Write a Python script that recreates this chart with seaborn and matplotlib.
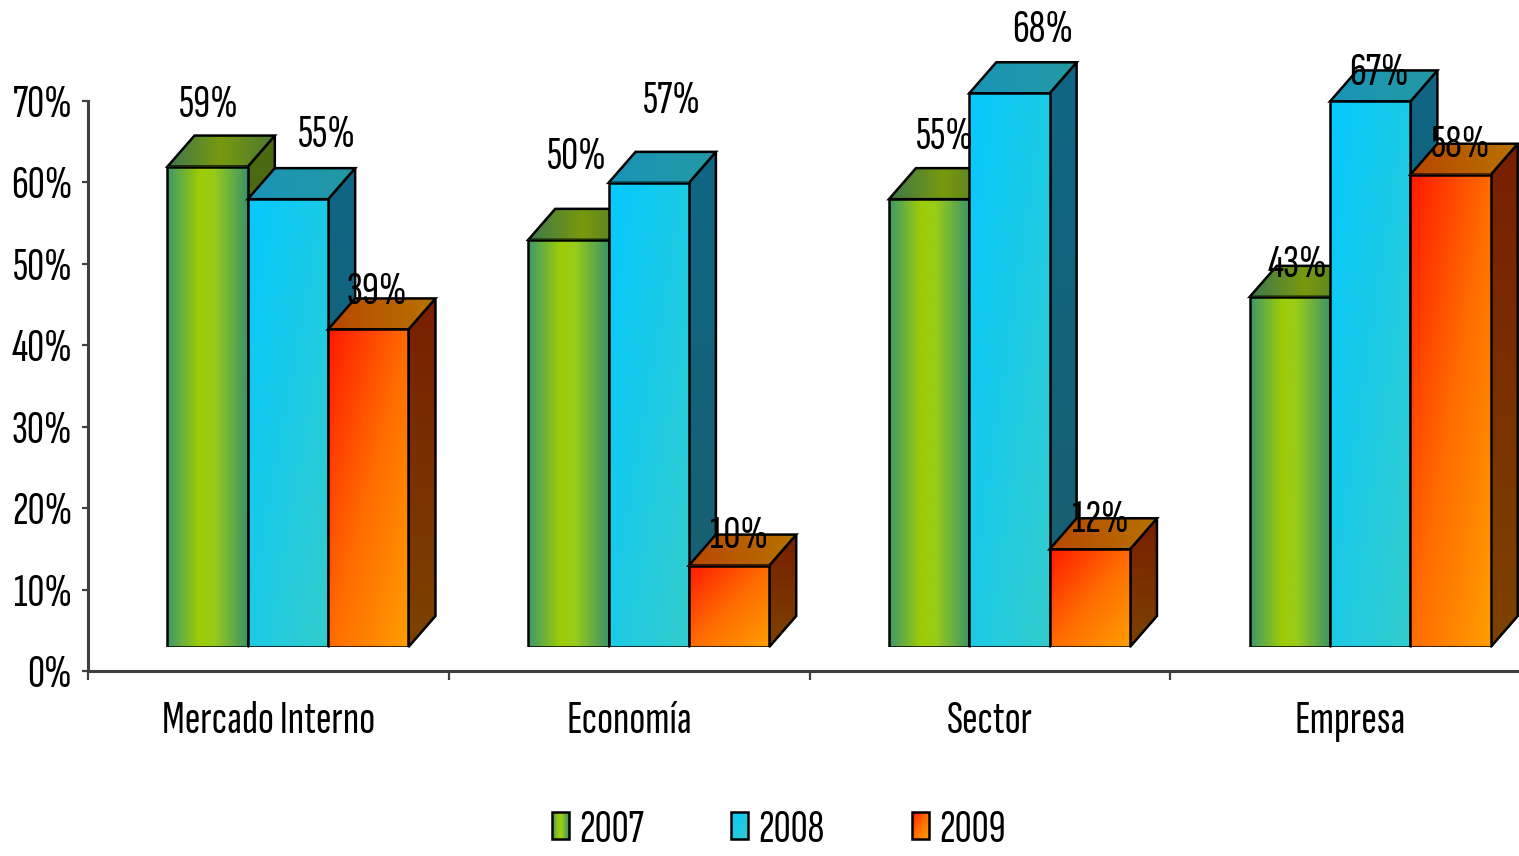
import numpy as np
import pandas as pd
import matplotlib
matplotlib.use("Agg")
import matplotlib.pyplot as plt
import seaborn as sns
from matplotlib.patches import Polygon, Patch, Rectangle
from matplotlib.image import BboxImage
from matplotlib.transforms import Bbox, TransformedBbox
from matplotlib.legend_handler import HandlerPatch
from matplotlib.ticker import PercentFormatter, FixedLocator, NullFormatter

# ---------------- data ----------------
categories = ["Mercado Interno", "Economía", "Sector", "Empresa"]
years = ["2007", "2008", "2009"]
v2007 = [59, 50, 55, 43]
v2008 = [55, 57, 68, 67]
v2009 = [39, 10, 12, 58]
y_ticks = [0, 10, 20, 30, 40, 50, 60, 70]

# ---------------- layout / style ----------------
# label glyph-centre offsets in pixels from the top-centre of each bar's front face (layout only)
label_offsets = [(1, -65), (39, -68), (9, -41),
                 (8, -86), (23, -85), (10, -33),
                 (16, -66), (33, -67), (11, -33),
                 (8, -35), (9, -32), (10, -33)]

front_stops = [
    [(0.0, (0.24, 0.60, 0.42)), (0.40, (0.62, 0.80, 0.02)), (0.58, (0.60, 0.80, 0.10)), (1.0, (0.23, 0.58, 0.40))],
    [(0.0, (0.02, 0.79, 1.00)), (1.0, (0.20, 0.80, 0.80))],
    [(0.0, (1.00, 0.10, 0.00)), (0.5, (1.00, 0.42, 0.00)), (1.0, (1.00, 0.62, 0.00))],
]
front_kind = ["h", "d", "d"]
top_stops = [
    [(0.0, (0.24, 0.47, 0.30)), (0.5, (0.47, 0.60, 0.05)), (1.0, (0.30, 0.47, 0.20))],
    [(0.0, (0.10, 0.58, 0.72)), (1.0, (0.14, 0.60, 0.64))],
    [(0.0, (0.72, 0.28, 0.00)), (1.0, (0.72, 0.45, 0.00))],
]
side_stops = [
    [(0.0, (0.30, 0.42, 0.06)), (1.0, (0.22, 0.36, 0.18))],
    [(0.0, (0.06, 0.40, 0.52)), (1.0, (0.10, 0.37, 0.43))],
    [(0.0, (0.47, 0.12, 0.00)), (1.0, (0.49, 0.26, 0.00))],
]
mid_colors = ["#8cc43a", "#1ccfe6", "#ff6a00"]

W, H = 1519, 856
PX_PER_UNIT = 570 / 70.0     # pixels per percent
CAT_PX = 1443 / 4.0          # pixels per category
DEPTH_X, DEPTH_Y = 27, 31    # 3-D depth in pixels
EDGE = 1.8
FS = 34
CAP_PX = 31

sns.set_style("white")
plt.rcParams["font.family"] = ["Sofia Sans Extra Condensed", "Roboto Condensed", "DejaVu Sans"]
plt.rcParams["text.color"] = "black"

fig = plt.figure(figsize=(W / 100, H / 100), dpi=100)
ax = fig.add_axes([88 / W, 185 / H, 1443 / W, 570 / H])
ax2_top = 85
ax2 = fig.add_axes([107.6 / W, 209 / H, 1443 / W, ax2_top * PX_PER_UNIT / H])

df = pd.DataFrame({
    "Categoría": categories * 3,
    "Año": np.repeat(years, len(categories)),
    "Valor": v2007 + v2008 + v2009,
})

sns.barplot(data=df, x="Categoría", y="Valor", hue="Año", order=categories, hue_order=years,
            palette=mid_colors, saturation=1, width=0.668, errorbar=None, legend=False,
            edgecolor="black", linewidth=EDGE, ax=ax2)
ax2.set_xlim(-0.5, len(categories) - 0.5)
ax2.set_ylim(0, ax2_top)


def grad_img(stops, kind, n=96):
    u = np.linspace(0, 1, n)
    U, V = np.meshgrid(u, u)  # V: 0 bottom -> 1 top (origin lower)
    if kind == "h":
        t = U
    elif kind == "d":
        t = (U + (1 - V)) / 2
    else:
        t = 1 - V
    pos = [s[0] for s in stops]
    img = np.zeros((n, n, 3))
    for c in range(3):
        img[..., c] = np.interp(t, pos, [s[1][c] for s in stops])
    return img


def fill_gradient(axis, clip_patch, stops, kind, extent, z):
    im = axis.imshow(grad_img(stops, kind), extent=extent, origin="lower", aspect="auto",
                     interpolation="bilinear", zorder=z)
    im.set_clip_path(clip_patch)
    im.set_clip_box(None)
    return im


ddx = DEPTH_X / CAT_PX
ddy = DEPTH_Y / PX_PER_UNIT

bars = sorted(ax2.patches, key=lambda p: p.get_x())
values_by_bar = []
for ci in range(len(categories)):
    for s in (v2007, v2008, v2009):
        values_by_bar.append(s[ci])

for k, p in enumerate(bars):
    s = k % 3
    x0, w, h = p.get_x(), p.get_width(), p.get_height()
    base = 2 + k
    side = Polygon([(x0 + w, 0), (x0 + w + ddx, ddy), (x0 + w + ddx, h + ddy), (x0 + w, h)],
                   closed=True, facecolor="none", edgecolor="black", linewidth=EDGE,
                   zorder=base + 0.2, clip_on=False, joinstyle="miter")
    ax2.add_patch(side)
    fill_gradient(ax2, side, side_stops[s], "v", (x0 + w, x0 + w + ddx, 0, h + ddy), base + 0.1)
    top = Polygon([(x0, h), (x0 + w, h), (x0 + w + ddx, h + ddy), (x0 + ddx, h + ddy)],
                  closed=True, facecolor="none", edgecolor="black", linewidth=EDGE,
                  zorder=base + 0.4, clip_on=False, joinstyle="miter")
    ax2.add_patch(top)
    fill_gradient(ax2, top, top_stops[s], "h", (x0, x0 + w + ddx, h, h + ddy), base + 0.3)
    fill_gradient(ax2, p, front_stops[s], front_kind[s], (x0, x0 + w, 0, h), base + 0.5)
    p.set_facecolor("none")
    p.set_zorder(base + 0.6)
    p.set_joinstyle("miter")

    dxp, dyp = label_offsets[k]
    baseline_dy = dyp + CAP_PX / 2
    ax2.annotate(f"{values_by_bar[k]}%", xy=(x0 + w / 2, h),
                 xytext=(dxp * 0.72, -baseline_dy * 0.72), textcoords="offset points",
                 ha="center", va="baseline", fontsize=FS, color="black", zorder=100)

ax2.set_xlim(-0.5, len(categories) - 0.5)
ax2.set_ylim(0, ax2_top)
ax2.axis("off")

# ---------------- main axis ----------------
ax.set_xlim(-0.5, len(categories) - 0.5)
ax.set_ylim(0, 70)
ax.set_yticks(y_ticks)
ax.yaxis.set_major_formatter(PercentFormatter(100, decimals=0))
ax.xaxis.set_major_locator(FixedLocator(np.arange(len(categories) + 1) - 0.5))
ax.xaxis.set_major_formatter(NullFormatter())
ax.set_xticks(np.arange(len(categories)), minor=True)
ax.set_xticklabels(categories, minor=True, va="baseline", fontsize=FS, color="black")
ax.tick_params(axis="x", which="minor", length=0, pad=44.6)
ax.tick_params(axis="x", which="major", length=6.5, width=1.6, color="#404040", direction="out",
               bottom=True)
ax.tick_params(axis="y", length=4.3, width=1.6, color="#404040", pad=7, labelsize=FS,
               direction="out", left=True, labelcolor="black")
for side_name in ("top", "right"):
    ax.spines[side_name].set_visible(False)
for side_name in ("left", "bottom"):
    ax.spines[side_name].set_color("#404040")
    ax.spines[side_name].set_linewidth(2.2)
ax.grid(False)
ax.set_xlabel("")
ax.set_ylabel("")


class GradientHandler(HandlerPatch):
    def __init__(self, stops, kind, **kw):
        super().__init__(**kw)
        self.stops = stops
        self.kind = kind

    def create_artists(self, legend, orig_handle, xdescent, ydescent, width, height, fontsize, trans):
        bb = TransformedBbox(Bbox.from_bounds(-xdescent, -ydescent, width, height), trans)
        img = BboxImage(bb, interpolation="bilinear")
        img.set_data(grad_img(self.stops, self.kind)[::-1])
        rect = Rectangle((-xdescent, -ydescent), width, height, facecolor="none",
                         edgecolor="black", linewidth=EDGE, transform=trans)
        return [img, rect]


legend_kw = dict(loc="center", bbox_to_anchor=(779 / W, 1 - 831 / H), ncol=3,
                 frameon=False, fontsize=FS, handlelength=0.36, handleheight=0.5,
                 handletextpad=0.22, columnspacing=1.85, borderaxespad=0, borderpad=0)
handles = [Patch(facecolor=c, edgecolor="black", linewidth=EDGE) for c in mid_colors]
hmap = {h: GradientHandler(front_stops[i], front_kind[i]) for i, h in enumerate(handles)}
leg = fig.legend(handles, years, handler_map=hmap, **legend_kw)
for t in leg.get_texts():
    t.set_color("black")

try:
    fig.savefig("out.png", dpi=100)
except Exception:
    leg.remove()
    leg = fig.legend(handles, years, **legend_kw)
    fig.savefig("out.png", dpi=100)
